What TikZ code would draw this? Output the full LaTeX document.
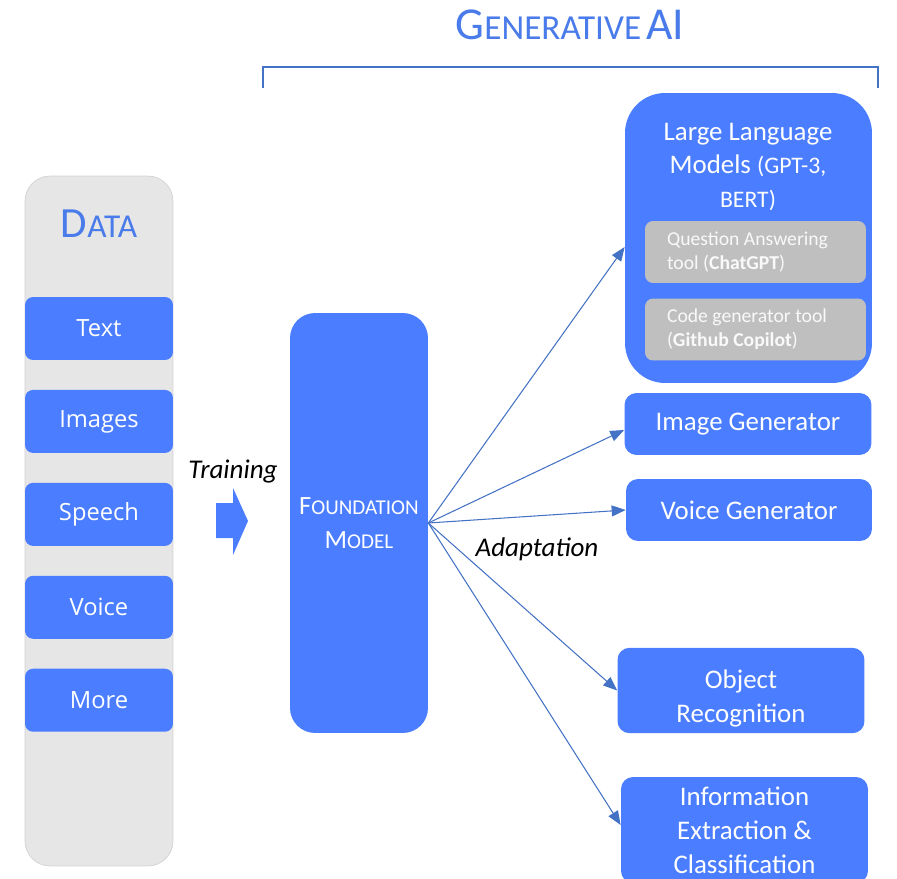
\documentclass[tikz,border=0pt]{standalone}
\usepackage{fontspec}
\setmainfont{Carlito}
\newfontfamily\itemfont{Open Sans}
\usetikzlibrary{arrows.meta,positioning}

\definecolor{boxblue}{HTML}{4A7DFF}
\definecolor{headblue}{HTML}{4A7BEA}
\definecolor{lineblue}{HTML}{4472C4}
\definecolor{datagray}{HTML}{E6E6E6}
\definecolor{toolgray}{HTML}{BFBFBF}

% big first letter, smaller capitals after it
\newcommand{\capsc}[4]{{\fontsize{#1}{#1}\selectfont #3}{\fontsize{#2}{#2}\selectfont #4}}

\tikzset{
  databox/.style={fill=boxblue, text=white, rounded corners=0.16cm,
    minimum width=2.96cm, minimum height=1.26cm, font=\itemfont\fontsize{13.5}{17}\selectfont},
  genbox/.style={fill=boxblue, text=white, rounded corners=0.24cm,
    minimum width=4.94cm, align=flush center, font=\fontsize{15.3}{19.3}\selectfont},
  toolbox/.style={fill=toolgray, text=white!95!gray, rounded corners=0.16cm,
    inner xsep=0.44cm, text width=3.54cm, minimum height=1.24cm, align=flush left,
    font=\fontsize{11.2}{13.7}\selectfont},
  fanarrow/.style={draw=lineblue, line width=0.6pt, -{Triangle[length=0.28cm,width=0.22cm]}},
}

\begin{document}
\begin{tikzpicture}[x=0.02cm, y=-0.02cm, node distance=0.585cm]
\useasboundingbox (0,0) rectangle (897,879);
\clip (0,0) rectangle (897,879);

% title and bracket
\node (title) at (570,25) [text=headblue] {\capsc{26}{20}{G}{ENERATIVE}\hspace{0.3em}\capsc{26}{20}{AI}{}};
\coordinate (bl) at (263,88);
\coordinate (br) at (878,88);
\draw[lineblue, line width=0.8pt] (bl) -- ++(0,-21) -| (br);

% data column
\node (datacol) at (99,521) [fill=datagray, draw=gray!35, rounded corners=0.5cm,
  minimum width=2.96cm, minimum height=13.8cm] {};
\node (data) at (99,224) [text=headblue] {\capsc{24.5}{19}{D}{ATA}};
\node (txt) at (99,328.5) [databox] {Text};
\node (img) [databox, below=of txt] {Images};
\node (spc) [databox, below=of img] {Speech};
\node (voc) [databox, below=of spc] {Voice};
\node (mor) [databox, below=of voc] {More};

% training
\fill[boxblue] (216,503) -- (233,503) -- (233,488) -- (248,521) -- (233,555) -- (233,538) -- (216,538) -- cycle;
\node (training) at (233,472) [font=\fontsize{15.4}{17}\selectfont\itshape] {Training};

% foundation model
\node (fm) at (359,523) [fill=boxblue, text=white, rounded corners=0.5cm,
  minimum width=2.76cm, minimum height=8.4cm, align=flush center]
  {\capsc{15}{12}{F}{OUNDATION}\\[7pt]\capsc{15}{12}{M}{ODEL}};

% generative models
\node (llm) at (748.5,238) [fill=boxblue, rounded corners=0.8cm,
  minimum width=4.94cm, minimum height=5.8cm] {};
\node (llmtext) at (748,167) [text=white, align=flush center, font=\fontsize{15.3}{19.3}\selectfont]
  {Large Language\\Models {\fontsize{13.5}{15}\selectfont(GPT-3,}\\{\fontsize{13.5}{15}\selectfont BERT)}};
\node (qa) at (755.5,252) [toolbox] {Question Answering\\tool (\textbf{ChatGPT})};
\node (code) at (755.5,329.5) [toolbox] {Code generator tool\\(\textbf{Github Copilot})};

\node (imggen) at (748,424) [genbox, minimum height=1.24cm] {Image Generator};
\node (vocgen) at (749,510) [genbox, minimum height=1.24cm, minimum width=4.92cm] {Voice Generator};
\node (objrec) at (741,690.5) [genbox, minimum height=1.7cm] {\rule{0pt}{20pt}Object\\Recognition};
\node (infext) at (744.5,830) [genbox, minimum height=2.12cm] {Information\\Extraction \&\\Classification};

% adaptation
\draw[fanarrow] (fm.east) -- ([yshift=-0.18cm]llm.west);
\draw[fanarrow] (fm.east) -- ([yshift=-0.12cm]imggen.west);
\draw[fanarrow] (fm.east) -- (vocgen.west);
\draw[fanarrow] (fm.east) -- (objrec.west);
\draw[fanarrow] (fm.east) -- ([yshift=0.1cm]infext.west);
\node (adaptation) at (537,549) [font=\fontsize{15.4}{17}\selectfont\itshape] {Adaptation};
\end{tikzpicture}
\end{document}
